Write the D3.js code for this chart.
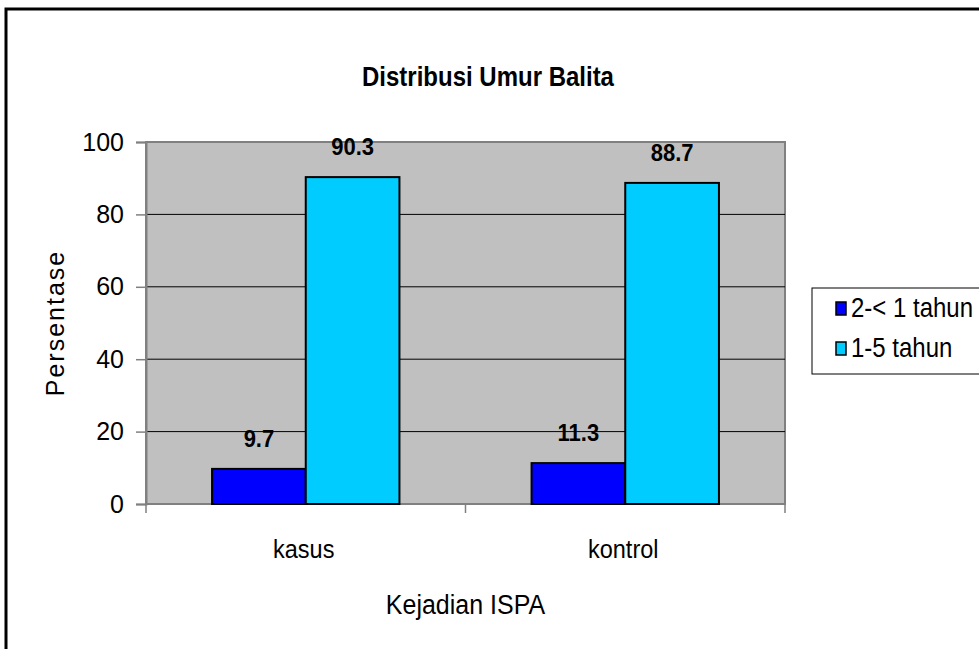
<!DOCTYPE html>
<html>
<head>
<meta charset="utf-8">
<script src="https://cdn.jsdelivr.net/npm/d3@7"></script>
<style>
  body { margin: 0; background: #fff; }
  svg { display: block; font-family: "Liberation Sans", Arial, sans-serif; }
</style>
</head>
<body>
<div id="chart"></div>
<script>
// Chart data
const categories = ['kasus', 'kontrol'];
const seriesNames = ['2-< 1 tahun', '1-5 tahun'];
const seriesValues = [
    [9.7, 11.3],   // 2-< 1 tahun
    [90.3, 88.7]   // 1-5 tahun
];
const seriesColors = ['#0000FF', '#00CCFF'];
const yTicks = [0, 20, 40, 60, 80, 100];

const W = 979, H = 649;
const plot = { left: 146, right: 785, top: 142, bottom: 504 };
// the source picture is a bit taller than wide, so stretch text slightly
const STRETCH = 1.12;

const svg = d3.select('#chart').append('svg')
    .attr('width', W)
    .attr('height', H);

// Outer chart border (runs off the right and bottom edges)
svg.append('rect')
    .attr('x', 6).attr('y', 9)
    .attr('width', W + 20).attr('height', H + 20)
    .attr('fill', '#fff')
    .attr('stroke', '#000')
    .attr('stroke-width', 3);

// Title
svg.append('text')
    .attr('transform', `translate(488,86) scale(1,${STRETCH})`)
    .attr('text-anchor', 'middle')
    .style('font-size', '24px')
    .style('font-weight', 'bold')
    .text('Distribusi Umur Balita');

// Scales
const x0 = d3.scaleBand()
    .domain(categories)
    .range([plot.left, plot.right]);

const x1 = d3.scaleBand()
    .domain(d3.range(seriesNames.length))
    .range([0, x0.bandwidth()])
    .paddingOuter(0.705)
    .paddingInner(0);

const y = d3.scaleLinear()
    .domain([0, 100])
    .range([plot.bottom, plot.top]);

// Plot area background
svg.append('rect')
    .attr('x', plot.left).attr('y', plot.top)
    .attr('width', plot.right - plot.left)
    .attr('height', plot.bottom - plot.top)
    .attr('fill', '#C0C0C0')
    .attr('stroke', '#808080')
    .attr('stroke-width', 2);

// Gridlines
svg.append('g')
    .selectAll('line')
    .data(yTicks.filter(d => d > 0 && d < 100))
    .join('line')
    .attr('x1', plot.left).attr('x2', plot.right)
    .attr('y1', d => y(d)).attr('y2', d => y(d))
    .attr('stroke', '#000')
    .attr('stroke-width', 1);

// Y axis
const yAxis = d3.axisLeft(y)
    .tickValues(yTicks)
    .tickSize(10)
    .tickPadding(12);

const gy = svg.append('g')
    .attr('transform', `translate(${plot.left},0)`)
    .call(yAxis);
gy.select('.domain').attr('stroke', '#808080').attr('stroke-width', 2);
gy.selectAll('.tick line').attr('stroke', '#808080').attr('stroke-width', 1.5);
gy.selectAll('text')
    .style('font-size', '25px')
    .style('font-family', '"Liberation Sans", Arial, sans-serif')
    .attr('fill', '#000');

// X axis (ticks between categories)
const gx = svg.append('g')
    .attr('transform', `translate(0,${plot.bottom})`);
gx.append('line')
    .attr('x1', plot.left).attr('x2', plot.right)
    .attr('stroke', '#808080').attr('stroke-width', 2);
const xBounds = categories.map(c => x0(c)).concat([x0(categories[categories.length - 1]) + x0.bandwidth()]);
gx.selectAll('.xtick')
    .data(xBounds)
    .join('line')
    .attr('class', 'xtick')
    .attr('x1', d => d).attr('x2', d => d)
    .attr('y1', 0).attr('y2', 9)
    .attr('stroke', '#808080').attr('stroke-width', 1.5);
gx.selectAll('.xlabel')
    .data(categories)
    .join('text')
    .attr('class', 'xlabel')
    .attr('transform', d => `translate(${x0(d) + x0.bandwidth() / 2 - 2},54) scale(1,${STRETCH})`)
    .attr('text-anchor', 'middle')
    .style('font-size', '23.5px')
    .text(d => d);

// Bars
const groups = svg.append('g')
    .selectAll('g')
    .data(categories)
    .join('g')
    .attr('transform', d => `translate(${x0(d)},0)`);

groups.selectAll('rect')
    .data((c, ci) => seriesValues.map((vals, si) => ({ si, v: vals[ci] })))
    .join('rect')
    .attr('x', d => x1(d.si))
    .attr('y', d => y(d.v))
    .attr('width', x1.bandwidth())
    .attr('height', d => y(0) - y(d.v))
    .attr('fill', d => seriesColors[d.si])
    .attr('stroke', '#000')
    .attr('stroke-width', 2);

// Data labels
groups.selectAll('text')
    .data((c, ci) => seriesValues.map((vals, si) => ({ si, v: vals[ci] })))
    .join('text')
    .attr('transform', d => `translate(${x1(d.si) + x1.bandwidth() / 2},${y(d.v) - 22}) scale(1,${STRETCH})`)
    .attr('text-anchor', 'middle')
    .style('font-size', '22px')
    .style('font-weight', 'bold')
    .text(d => d.v);

// Axis titles
svg.append('text')
    .attr('transform', `translate(64,${(plot.top + plot.bottom) / 2}) rotate(-90)`)
    .attr('text-anchor', 'middle')
    .style('font-size', '25px')
    .style('letter-spacing', '2px')
    .text('Persentase');

svg.append('text')
    .attr('transform', `translate(${(plot.left + plot.right) / 2},614) scale(1,${STRETCH})`)
    .attr('text-anchor', 'middle')
    .style('font-size', '25px')
    .text('Kejadian ISPA');

// Legend
const legend = svg.append('g');
legend.append('rect')
    .attr('x', 812).attr('y', 288)
    .attr('width', 200).attr('height', 86)
    .attr('fill', '#fff')
    .attr('stroke', '#000')
    .attr('stroke-width', 1);

const items = legend.selectAll('g')
    .data(seriesNames)
    .join('g')
    .attr('transform', (d, i) => `translate(836,${317 + i * 40})`);
items.append('rect')
    .attr('x', 0).attr('y', -15)
    .attr('width', 10).attr('height', 13)
    .attr('fill', (d, i) => seriesColors[i])
    .attr('stroke', '#000')
    .attr('stroke-width', 1.5);
items.append('text')
    .attr('transform', `translate(15,0) scale(1,${STRETCH})`)
    .style('font-size', '24px')
    .text(d => d);
</script>
</body>
</html>
